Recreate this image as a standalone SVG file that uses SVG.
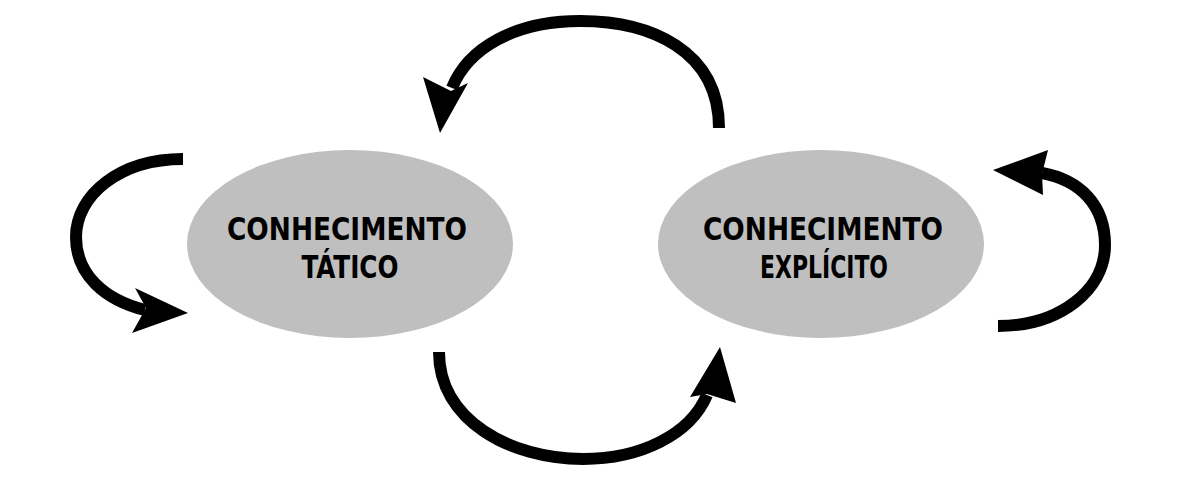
<svg xmlns="http://www.w3.org/2000/svg" width="1181" height="486" viewBox="0 0 1181 486">
<style>
.node{fill:#bfbfbf}
.lbl{font-family:"DejaVu Sans Condensed","DejaVu Sans","Liberation Sans",sans-serif;font-stretch:condensed;font-weight:bold;font-size:32px;fill:#000;text-anchor:middle}
.arc{fill:none;stroke:#000;stroke-width:12}
.head{fill:#000}
</style>
<rect width="1181" height="486" fill="#fff"/>
<g id="tacito">
<ellipse class="node" cx="350" cy="244" rx="163" ry="94"/>
<text class="lbl" x="347" y="240" textLength="240" lengthAdjust="spacingAndGlyphs">CONHECIMENTO</text>
<text class="lbl" x="350" y="278" textLength="97" lengthAdjust="spacingAndGlyphs">TÁTICO</text>
</g>
<g id="explicito">
<ellipse class="node" cx="821" cy="244" rx="163" ry="94"/>
<text class="lbl" x="823" y="240" textLength="240" lengthAdjust="spacingAndGlyphs">CONHECIMENTO</text>
<text class="lbl" x="824" y="278" textLength="128" lengthAdjust="spacingAndGlyphs">EXPLÍCITO</text>
</g>
<g id="connectors">
<path class="arc" d="M719,128 C719,50 650,21 580,21 C515,21 468,48 452,88"/>
<polygon class="head" points="440,133 423,77 451,91 468,83"/>
<path class="arc" d="M183,159 C120,159 76,195 76,237 C76,275 105,300 145,310"/>
<polygon class="head" points="188,313 135,288 146,308 132,333"/>
<path class="arc" d="M998,326 C1060,326 1105,290 1105,245 C1105,205 1080,180 1042,173"/>
<polygon class="head" points="993,170 1048,150 1042,174 1043,195"/>
<path class="arc" d="M439,352 C439,420 510,459 583,459 C640,459 690,435 707,395"/>
<polygon class="head" points="720,347 736,403 707,394 690,397"/>
</g>
</svg>
